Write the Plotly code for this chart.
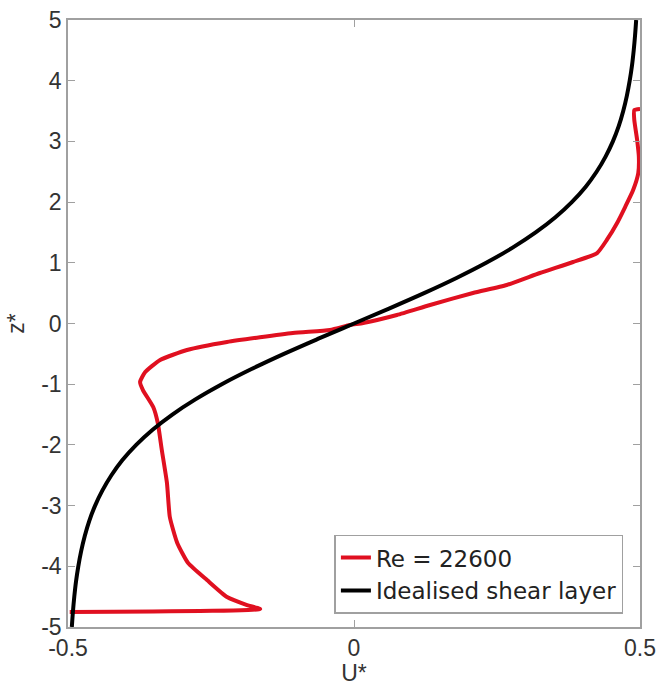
import plotly.graph_objects as go

# Measured red profile (Re = 22600)
red_u = [0.500, 0.490, 0.490, 0.495, 0.498, 0.497, 0.488, 0.474, 0.460, 0.442,
         0.425, 0.383, 0.325, 0.267, 0.208, 0.133, 0.075, 0.016, -0.007,
         -0.042, -0.107, -0.222, -0.292, -0.339, -0.365, -0.374, -0.369, -0.351, -0.343,
         -0.336, -0.327, -0.322, -0.309, -0.290, -0.257, -0.222, -0.187, -0.164, -0.497]
red_z = [3.534, 3.517, 3.353, 3.023, 2.743, 2.479, 2.199, 1.919, 1.656, 1.376,
         1.161, 1.013, 0.832, 0.634, 0.502, 0.305, 0.140, 0.008, -0.025,
         -0.107, -0.157, -0.305, -0.437, -0.601, -0.799, -0.964, -1.096, -1.376, -1.639,
         -2.084, -2.628, -3.188, -3.616, -3.946, -4.226, -4.506, -4.638, -4.704, -4.753]

# Idealised shear layer profile
ideal_z = [-5.0, -4.75, -4.5, -4.25, -4.0, -3.75, -3.5, -3.25, -3.0, -2.75, -2.5, -2.25,
           -2.0, -1.75, -1.5, -1.25, -1.0, -0.75, -0.5, -0.25, 0.0, 0.25, 0.5, 0.75,
           1.0, 1.25, 1.5, 1.75, 2.0, 2.25, 2.5, 2.75, 3.0, 3.25, 3.5, 3.75, 4.0,
           4.25, 4.5, 4.75, 5.0]
ideal_u = [-0.4933, -0.4914, -0.4890, -0.4860, -0.4820, -0.4770, -0.4707, -0.4628,
           -0.4526, -0.4398, -0.4241, -0.4048, -0.3808, -0.3521, -0.3176, -0.2773,
           -0.2311, -0.1792, -0.1225, -0.0622, 0.0, 0.0622, 0.1225, 0.1792, 0.2311,
           0.2773, 0.3176, 0.3521, 0.3808, 0.4048, 0.4241, 0.4398, 0.4526, 0.4628,
           0.4707, 0.4770, 0.4820, 0.4860, 0.4890, 0.4914, 0.4933]

x_ticks = [-0.5, 0, 0.5]
x_tick_text = ["-0.5", "0", "0.5"]
y_ticks = [-5, -4, -3, -2, -1, 0, 1, 2, 3, 4, 5]
y_tick_text = ["-5", "-4", "-3", "-2", "-1", "0", "1", "2", "3", "4", "5"]

FONT = "Liberation Sans, Arial, sans-serif"
LEG_FONT = "DejaVu Sans, Liberation Sans, sans-serif"
TXT = "#333333"

fig = go.Figure()
fig.add_trace(go.Scatter(x=red_u, y=red_z, mode="lines", name="Re = 22600",
                         line=dict(color="#e01020", width=4, shape="spline", smoothing=0.5)))
fig.add_trace(go.Scatter(x=ideal_u, y=ideal_z, mode="lines", name="Idealised shear layer",
                         line=dict(color="#000000", width=4, shape="spline")))

axis_common = dict(showline=True, linecolor="#a0a0a0", linewidth=1.5, mirror="ticks",
                   ticks="inside", ticklen=7, tickcolor="#a0a0a0", showgrid=False,
                   zeroline=False, automargin=False,
                   tickfont=dict(family=FONT, size=23, color=TXT))

fig.update_xaxes(range=[-0.5, 0.5], tickvals=x_ticks, ticktext=x_tick_text,
                 title=dict(text="U*", font=dict(family=FONT, size=23, color=TXT), standoff=9),
                 **axis_common)
fig.update_yaxes(range=[-5, 5], tickvals=y_ticks, ticktext=y_tick_text,
                 title=dict(text="z*", font=dict(family=FONT, size=23, color=TXT), standoff=10),
                 **axis_common)

fig.update_layout(
    width=663, height=686,
    margin=dict(l=68, r=23, t=20, b=59),
    paper_bgcolor="white", plot_bgcolor="white",
    showlegend=True,
    legend=dict(x=0.971, y=0.022, xanchor="right", yanchor="bottom",
                bgcolor="white", bordercolor="#a0a0a0", borderwidth=1.5,
                font=dict(family=LEG_FONT, size=23, color="#222222"),
                tracegroupgap=0),
)

fig.write_html("out.html")
